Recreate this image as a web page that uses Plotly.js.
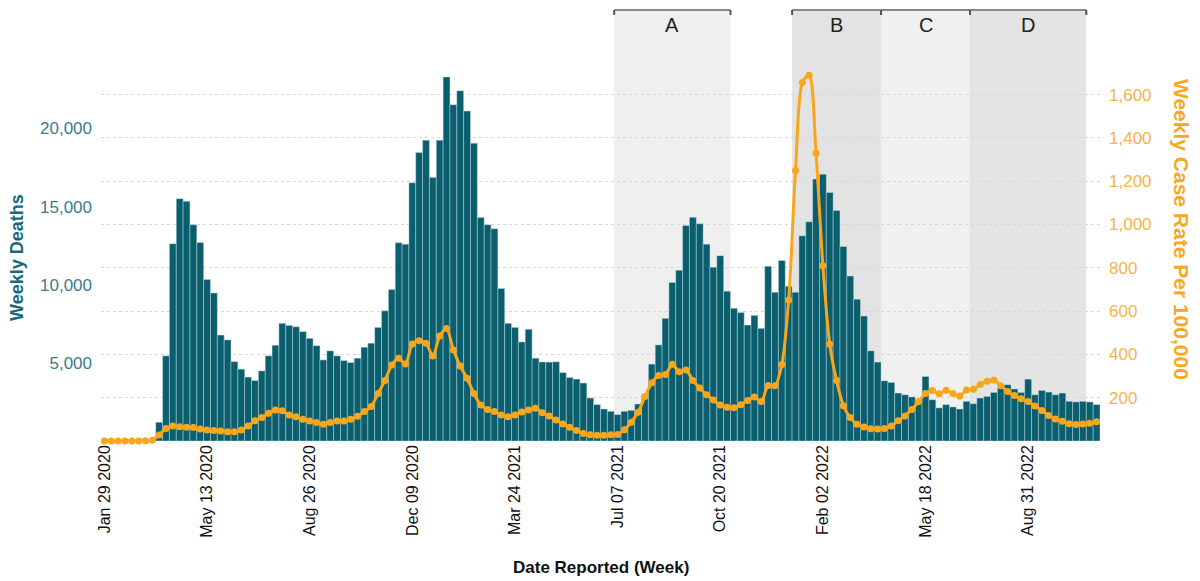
<!DOCTYPE html>
<html>
<head>
<meta charset="utf-8">
<script src="https://cdn.plot.ly/plotly-3.0.1.min.js"></script>
<style>html,body{margin:0;padding:0;background:#fff;}#chart{width:1200px;height:581px;}</style>
</head>
<body>
<div id="chart"></div>
<script>
// ---- DATA ----
var startWeek = '2020-01-29';   // first reported week
var weekCount = 146;

var weeklyDeaths = [
  0,0,0,0,0,0,10,60,
  1200,5450,12630,15510,15340,13840,12710,10330,9480,6780,6470,5080,4600,4090,3870,4490,5450,6130,7530,7400,7310,7000,
  6570,6100,5190,5770,5450,5150,5020,5300,6000,6260,7270,8330,9700,12690,12600,16530,18460,19250,16870,19250,
  23300,21520,22410,21120,19060,14300,13840,13580,9760,7530,
  7270,6340,7150,5300,5060,5050,5070,4380,4060,3960,
  3710,2750,2330,2050,1900,1690,1900,1960,2370,2960,
  4920,6150,7850,10140,10930,13790,14320,13900,12600,11120,
  11860,9590,8490,8230,7420,8040,7210,11180,9520,11560,
  9910,9520,13130,14030,16770,17080,15910,14750,12450,10560,
  9080,8000,5770,5050,3850,3750,3070,2960,2820,2640,
  4130,2640,2120,2330,2180,2050,2540,2390,2750,2850,
  3110,3390,3600,3330,3110,3960,2960,3240,3130,2960,
  3070,2540,2500,2540,2500,2330
];

var weeklyCaseRate = [
  0,0,0,0,0,0,1,3,
  28,58,69,66,63,62,55,51,48,46,43,43,51,69,94,108,128,143,140,120,112,100,
  92,85,77,85,92,92,100,114,136,159,220,279,351,382,356,448,463,451,393,485,
  520,420,346,290,220,166,146,136,120,112,
  120,134,143,151,131,115,97,79,63,48,
  35,29,26,26,29,30,52,87,133,205,
  269,302,307,355,320,328,280,245,214,189,
  166,156,154,168,187,203,183,256,255,353,
  651,1249,1656,1690,1329,810,447,279,163,108,
  77,65,57,55,58,69,94,116,146,182,
  220,233,218,234,220,208,236,239,261,276,
  282,255,229,210,195,182,162,141,118,102,
  91,80,76,78,82,89
];

var periodLabels = ['A','B','C','D'];
var periodStart  = ['2021-07-03 12:00','2022-01-01 12:00','2022-04-02 12:00','2022-07-02 12:00'];
var periodEnd    = ['2021-10-30 12:00','2022-04-02 12:00','2022-07-02 12:00','2022-10-29 12:00'];

var deathTicks = [5000,10000,15000,20000];
var rateTicks  = [200,400,600,800,1000,1200,1400,1600];

// ---- BUILD ----
var DAY = 86400000;
var t0 = Date.parse(startWeek + 'T00:00:00Z');
function iso(ms){ return new Date(ms).toISOString().slice(0,19).replace('T',' '); }
var weeks = [];
for (var i = 0; i < weekCount; i++) weeks.push(iso(t0 + i*7*DAY).slice(0,10));

var xRange = [iso(t0 - 3.5*DAY), iso(t0 + (weekCount-1)*7*DAY + 3.5*DAY)];

var shapeFill = ['#efefef','#e3e3e3','#f0f0f0','#e4e4e4'];
var shapes = [], annotations = [];
var tickDrop = 5/431;
for (var p = 0; p < periodLabels.length; p++) {
  shapes.push({type:'rect', xref:'x', yref:'paper', x0:periodStart[p], x1:periodEnd[p], y0:0, y1:1,
               fillcolor:shapeFill[p], line:{width:0}, layer:'below'});
  shapes.push({type:'line', xref:'x', yref:'paper', x0:periodStart[p], x1:periodEnd[p], y0:1, y1:1,
               line:{color:'#8a8a8a', width:2}, layer:'above'});
  shapes.push({type:'line', xref:'x', yref:'paper', x0:periodStart[p], x1:periodStart[p], y0:1, y1:1-tickDrop,
               line:{color:'#555', width:2}, layer:'above'});
  shapes.push({type:'line', xref:'x', yref:'paper', x0:periodEnd[p], x1:periodEnd[p], y0:1, y1:1-tickDrop,
               line:{color:'#555', width:2}, layer:'above'});
  var mid = iso((Date.parse(periodStart[p].replace(' ','T')+':00Z') + Date.parse(periodEnd[p].replace(' ','T')+':00Z'))/2);
  annotations.push({text:periodLabels[p], xref:'x', yref:'paper', x:mid, y:(441-25)/431,
                    showarrow:false, xanchor:'center', yanchor:'middle',
                    font:{size:20, color:'#222', family:'Liberation Sans, Arial, sans-serif'}});
}

annotations.push({text:'<b>Weekly Deaths</b>', xref:'paper', yref:'paper', x:(17-101)/999, y:(441-258)/431,
  textangle:-90, showarrow:false, xanchor:'center', yanchor:'middle',
  font:{size:18, color:'#17687a', family:'Liberation Sans, Arial, sans-serif'}});
annotations.push({text:'<b>Weekly Case Rate Per 100,000</b>', xref:'paper', yref:'paper', x:(1181-101)/999, y:(441-229)/431,
  textangle:90, showarrow:false, xanchor:'center', yanchor:'middle',
  font:{size:21, color:'#f7a823', family:'Liberation Sans, Arial, sans-serif'}});
annotations.push({text:'<b>Date Reported (Week)</b>', xref:'paper', yref:'paper', x:0.5, y:(441-567)/431,
  showarrow:false, xanchor:'center', yanchor:'middle',
  font:{size:17, color:'#111', family:'Liberation Sans Narrow, Liberation Sans, Arial, sans-serif'}});

var traces = [
  {type:'bar', x:weeks, y:weeklyDeaths, yaxis:'y', name:'Weekly Deaths',
   marker:{color:'#0b5e6e', line:{color:'rgba(200,225,230,0.55)', width:0.8}}},
  {type:'scatter', mode:'lines+markers', x:weeks, y:weeklyCaseRate, yaxis:'y2', name:'Weekly Case Rate',
   line:{color:'#f9a61a', width:3, shape:'spline', smoothing:0.8},
   marker:{color:'#f9a61a', size:7}, cliponaxis:false}
];

var layout = {
  width:1200, height:581,
  margin:{l:101, r:100, t:10, b:140},
  paper_bgcolor:'#fff', plot_bgcolor:'#fff',
  showlegend:false, bargap:0,
  font:{family:'Liberation Sans, Arial, sans-serif'},
  xaxis:{type:'date', range:xRange, tick0:startWeek, dtick:15*7*DAY, tickformat:'%b %d %Y',
         tickangle:-90, tickfont:{size:16, color:'#111'}, showgrid:false, zeroline:false,
         showline:false, ticks:'', fixedrange:true},
  yaxis:{range:[0, 27584], tickvals:deathTicks, tickformat:',', showgrid:false, zeroline:false,
         ticks:'', ticklabelstandoff:8, tickfont:{size:17, color:'#3a7c8b'}},
  yaxis2:{range:[0, 1991], overlaying:'y', side:'right', tickvals:rateTicks, tickformat:',',
          showgrid:true, gridcolor:'#d6d6d6', griddash:'dot', gridwidth:1, zeroline:false,
          ticks:'', ticklabelstandoff:8, tickfont:{size:17, color:'#f6b347'}},
  shapes:shapes,
  annotations:annotations
};

Plotly.newPlot('chart', traces, layout, {displayModeBar:false, staticPlot:true});
</script>
</body>
</html>
